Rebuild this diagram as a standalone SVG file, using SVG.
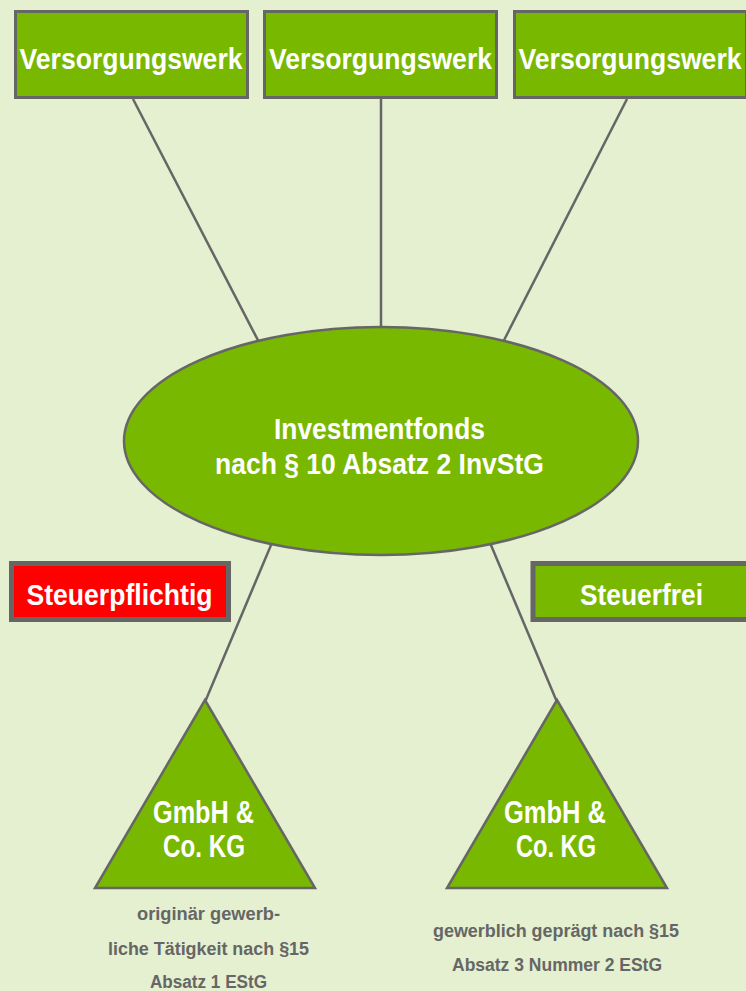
<svg xmlns="http://www.w3.org/2000/svg" width="746" height="991" viewBox="0 0 746 991">
  <style>
    .bg { fill: #e4f0cf; }
    .node { fill: #78b800; stroke: #666666; }
    .box { stroke-width: 3; }
    .shape { stroke-width: 2.5; }
    .tag { stroke-width: 5; }
    .red { fill: #ff0000; }
    .lbl { font-family: "Liberation Sans", Arial, sans-serif; font-weight: bold; fill: #ffffff; text-anchor: middle; }
    .cap { font-family: "Liberation Sans", Arial, sans-serif; font-weight: bold; fill: #666666; text-anchor: middle; font-size: 18px; }
    .wire { stroke: #666666; stroke-width: 2.5; fill: none; }
  </style>
  <rect class="bg" x="0" y="0" width="746" height="991"/>

  <!-- connectors, drawn beneath the nodes -->
  <g id="connectors">
    <line class="wire" x1="133" y1="99" x2="262" y2="348"/>
    <line class="wire" x1="381" y1="99" x2="381" y2="330"/>
    <line class="wire" x1="627" y1="99" x2="500" y2="348"/>
    <line class="wire" x1="274" y1="538" x2="205" y2="702"/>
    <line class="wire" x1="488" y1="538" x2="557" y2="702"/>
  </g>

  <g id="versorgungswerk-1">
    <rect class="node box" x="15.5" y="11.5" width="232" height="86"/>
    <text class="lbl" x="131" y="69" font-size="30" textLength="223" lengthAdjust="spacingAndGlyphs">Versorgungswerk</text>
  </g>
  <g id="versorgungswerk-2">
    <rect class="node box" x="264.5" y="11.5" width="232" height="86"/>
    <text class="lbl" x="380.5" y="69" font-size="30" textLength="223" lengthAdjust="spacingAndGlyphs">Versorgungswerk</text>
  </g>
  <g id="versorgungswerk-3">
    <rect class="node box" x="514.5" y="11.5" width="232" height="86"/>
    <text class="lbl" x="630" y="69" font-size="30" textLength="223" lengthAdjust="spacingAndGlyphs">Versorgungswerk</text>
  </g>

  <g id="investmentfonds">
    <ellipse class="node shape" cx="381" cy="441" rx="257" ry="114"/>
    <text class="lbl" x="379.5" y="439" font-size="30" textLength="211" lengthAdjust="spacingAndGlyphs">Investmentfonds</text>
    <text class="lbl" x="379.5" y="474" font-size="30" textLength="329" lengthAdjust="spacingAndGlyphs">nach § 10 Absatz 2 InvStG</text>
  </g>

  <g id="steuerpflichtig">
    <rect class="red tag" stroke="#666666" x="11.5" y="563.5" width="217" height="56"/>
    <text class="lbl" x="119.5" y="605" font-size="30" textLength="186" lengthAdjust="spacingAndGlyphs">Steuerpflichtig</text>
  </g>
  <g id="steuerfrei">
    <rect class="node tag" x="533" y="563.5" width="217" height="56"/>
    <text class="lbl" x="641.5" y="605" font-size="30" textLength="123" lengthAdjust="spacingAndGlyphs">Steuerfrei</text>
  </g>

  <g id="gmbh-left">
    <polygon class="node shape" points="205,700 95,888 315,888"/>
    <text class="lbl" x="203.5" y="823" font-size="31" textLength="101" lengthAdjust="spacingAndGlyphs">GmbH &amp;</text>
    <text class="lbl" x="204" y="857" font-size="31" textLength="82" lengthAdjust="spacingAndGlyphs">Co. KG</text>
    <text class="cap" x="208.5" y="920" textLength="143" lengthAdjust="spacingAndGlyphs">originär gewerb-</text>
    <text class="cap" x="208.5" y="955" textLength="201" lengthAdjust="spacingAndGlyphs">liche Tätigkeit nach §15</text>
    <text class="cap" x="208.5" y="988" textLength="117" lengthAdjust="spacingAndGlyphs">Absatz 1 EStG</text>
  </g>

  <g id="gmbh-right">
    <polygon class="node shape" points="557,700 447,888 667,888"/>
    <text class="lbl" x="555" y="823" font-size="31" textLength="102" lengthAdjust="spacingAndGlyphs">GmbH &amp;</text>
    <text class="lbl" x="556" y="857" font-size="31" textLength="80" lengthAdjust="spacingAndGlyphs">Co. KG</text>
    <text class="cap" x="556" y="937" textLength="246" lengthAdjust="spacingAndGlyphs">gewerblich geprägt nach §15</text>
    <text class="cap" x="557" y="971" textLength="210" lengthAdjust="spacingAndGlyphs">Absatz 3 Nummer 2 EStG</text>
  </g>
</svg>
